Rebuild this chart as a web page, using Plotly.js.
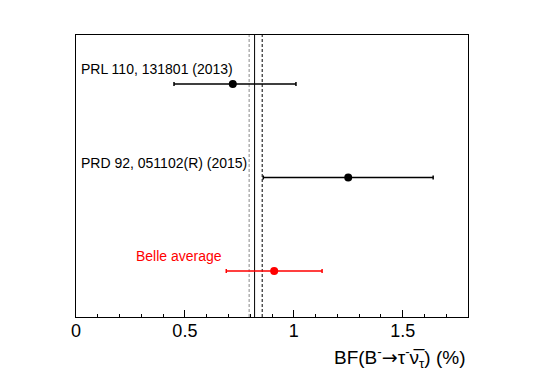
<!DOCTYPE html>
<html><head><meta charset="utf-8">
<script src="https://cdn.plot.ly/plotly-3.0.1.min.js"></script>
<style>html,body{margin:0;padding:0;background:#fff}#plot{width:545px;height:370px}</style>
</head><body><div id="plot"></div>
<script>
// Measurements (BF in %)
const labels = ["PRL 110, 131801 (2013)", "PRD 92, 051102(R) (2015)", "Belle average"];
const values = [0.72, 1.25, 0.91];
const errPlus = [0.29, 0.39, 0.22];
const errMinus = [0.27, 0.39, 0.22];
const rows = [3, 2, 1];
const colors = ["black", "black", "red"];
// Reference vertical lines
const lineX = [0.795, 0.82, 0.855];
const lineColor = ["#888888", "black", "black"];
const lineDash = ["3px,2px", "solid", "3px,2px"];
const tickVals = [0, 0.5, 1, 1.5];
const tickText = ["0", "0.5", "1", "1.5"];

const traces = values.map((v, i) => ({
  type: "scatter", mode: "markers",
  x: [v], y: [rows[i]],
  marker: {color: colors[i], size: 8},
  error_x: {type: "data", symmetric: false, array: [errPlus[i]], arrayminus: [errMinus[i]],
            color: colors[i], thickness: 1.5, width: 2},
  showlegend: false, hoverinfo: "skip"
}));

const shapes = lineX.map((x, i) => ({
  type: "line", xref: "x", yref: "paper", x0: x, x1: x, y0: 0, y1: 1,
  line: {color: lineColor[i], width: 1, dash: lineDash[i]}, layer: "below"
}));

const annotations = labels.map((t, i) => ({
  text: t, xref: i < 2 ? "paper" : "x", yref: "y",
  x: i < 2 ? 0.008 : 0.268, y: rows[i] + 0.16,
  xanchor: "left", yanchor: "middle", showarrow: false,
  font: {family: "Liberation Sans, Arial, sans-serif", size: 14, color: colors[i]}
}));
annotations.push({
  text: "BF(B<sup>-</sup><span style=\"font-family:DejaVu Sans\">→</span>τ<sup>-</sup>ν\u0305<sub>τ</sub>) (%)",
  xref: "paper", yref: "paper", x: 1.0, y: -0.142, xanchor: "right", yanchor: "middle",
  showarrow: false, font: {family: "Liberation Sans, Arial, sans-serif", size: 19, color: "black"}
});

const layout = {
  width: 545, height: 370,
  margin: {l: 75.5, r: 76.5, t: 35, b: 53},
  paper_bgcolor: "white", plot_bgcolor: "white",
  showlegend: false,
  xaxis: {
    range: [0, 1.8], tickvals: tickVals, ticktext: tickText,
    ticks: "inside", ticklen: 7, tickcolor: "black", tickwidth: 1,
    showline: true, linecolor: "black", linewidth: 1, mirror: true,
    showgrid: false, zeroline: false, ticklabelstandoff: -3,
    tickfont: {family: "Liberation Sans, Arial, sans-serif", size: 18, color: "black"},
    minor: {dtick: 0.1, tick0: 0, ticks: "inside", ticklen: 3.5, tickcolor: "black", showgrid: false}
  },
  yaxis: {
    range: [0.508, 3.524], showticklabels: false, ticks: "",
    showline: true, linecolor: "black", linewidth: 1, mirror: true,
    showgrid: false, zeroline: false
  },
  shapes: shapes, annotations: annotations
};
Plotly.newPlot("plot", traces, layout, {displayModeBar: false, staticPlot: true});
</script></body></html>
